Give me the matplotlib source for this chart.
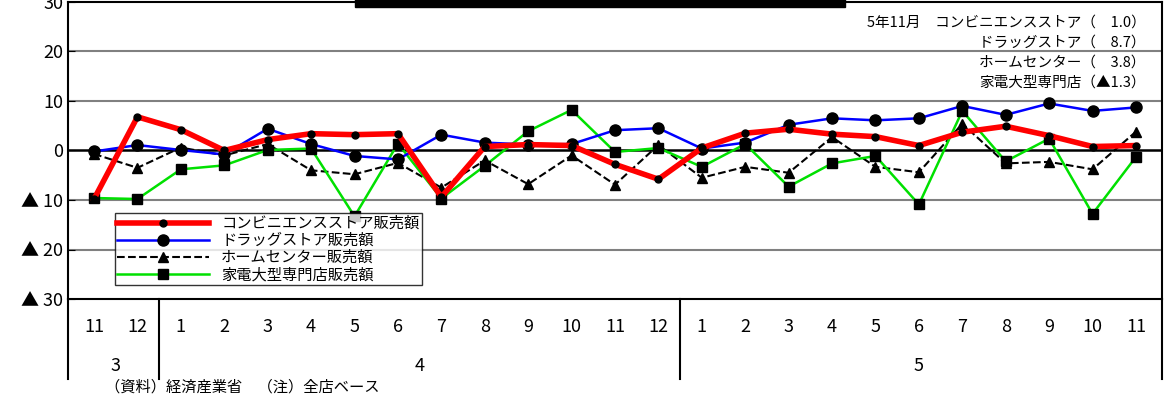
import matplotlib.pyplot as plt
from matplotlib.patches import Rectangle

plt.rcParams['font.family'] = ['Noto Sans CJK JP', 'DejaVu Sans']

months = ['11', '12', '1', '2', '3', '4', '5', '6', '7', '8', '9', '10', '11', '12',
          '1', '2', '3', '4', '5', '6', '7', '8', '9', '10', '11']
years = [('3', 0, 2), ('4', 2, 14), ('5', 14, 25)]

conv = [-9.8, 6.8, 4.2, 0.0, 2.2, 3.4, 3.2, 3.4, -9.4, 0.8, 1.2, 1.0, -2.8, -5.8,
        0.5, 3.5, 4.3, 3.3, 2.8, 1.0, 3.7, 4.9, 3.0, 0.8, 1.0]
drug = [-0.2, 1.1, 0.1, -0.8, 4.4, 1.3, -1.1, -1.8, 3.2, 1.6, 1.2, 1.3, 4.1, 4.5,
        0.4, 1.6, 5.2, 6.5, 6.1, 6.5, 9.0, 7.2, 9.5, 8.0, 8.7]
home = [-0.7, -3.5, 0.6, -1.0, 1.3, -4.0, -4.8, -2.5, -7.5, -2.0, -6.8, -1.0, -6.9, 1.1,
        -5.5, -3.3, -4.5, 2.7, -3.3, -4.4, 5.4, -2.6, -2.3, -3.8, 3.8]
appl = [-9.6, -9.8, -3.8, -3.0, 0.1, 0.4, -13.3, 1.4, -9.7, -3.1, 3.9, 8.2, -0.3, 0.5,
        -3.3, 1.3, -7.3, -2.6, -1.1, -10.9, 8.0, -2.2, 2.4, -12.8, -1.3]

fig = plt.figure(figsize=(11.67, 4), dpi=100)
ax = fig.add_axes([68 / 1167, 101 / 400, 1094 / 1167, 297 / 400])
x = list(range(len(months)))

ax.plot(x, conv, color='red', lw=4, marker='o', ms=5, mfc='black', mec='black',
        label='コンビニエンスストア販売額', zorder=5)
ax.plot(x, drug, color='blue', lw=1.8, marker='o', ms=8, mfc='black', mec='black',
        label='ドラッグストア販売額', zorder=4)
ax.plot(x, home, color='black', lw=1.5, ls='--', marker='^', ms=7,
        label='ホームセンター販売額', zorder=3)
ax.plot(x, appl, color='#00e000', lw=1.8, marker='s', ms=7, mfc='black', mec='black',
        label='家電大型専門店販売額', zorder=3)

ax.set_xlim(-0.6, len(months) - 0.4)
ax.set_ylim(-30, 30)
ax.set_yticks([-30, -20, -10, 0, 10, 20, 30])
ax.set_yticklabels(['▲ 30', '▲ 20', '▲ 10', '0', '10', '20', '30'], fontsize=13)
ax.tick_params(axis='y', direction='in', length=5)
for v in [20, 10, -10, -20]:
    ax.axhline(v, color='gray', lw=1.5, zorder=1)
ax.axhline(0, color='black', lw=1.8, zorder=2)
ax.set_xticks([])
for s in ax.spines.values():
    s.set_linewidth(1.5)

leg = ax.legend(loc='lower left', bbox_to_anchor=(0.036, 0.02), fontsize=11,
                frameon=True, fancybox=False, edgecolor='black', borderpad=0.15,
                labelspacing=0.0, handlelength=6)
leg.get_frame().set_linewidth(1)

# cut-off title box at the top
ax.add_patch(Rectangle((6.0, 29.0), 11.3, 2.0, color='black', clip_on=False, zorder=6))

ax.text(0.985, 0.955, '5年11月　コンビニエンスストア（　1.0）\nドラッグストア（　8.7）\n'
        'ホームセンター（　3.8）\n家電大型専門店（▲1.3）', transform=ax.transAxes,
        ha='right', va='top', fontsize=10.5, linespacing=1.55)

tr = ax.get_xaxis_transform()
for i, m in enumerate(months):
    ax.text(i, -0.095, m, transform=tr, ha='center', va='center', fontsize=13, clip_on=False)
for lab, a, b in years:
    xm = (a + b - 1) / 2
    ax.text(xm, -0.225, lab, transform=tr, ha='center', va='center', fontsize=13, clip_on=False)
for xb in [-0.6, 1.5, 13.5, len(months) - 0.4]:
    ax.plot([xb, xb], [0, -0.27], transform=tr, color='black', lw=1.5, clip_on=False)

fig.text(105 / 1167, 13 / 400, '（資料）経済産業省　（注）全店ベース', fontsize=11, va='center')

fig.savefig('out.png')
